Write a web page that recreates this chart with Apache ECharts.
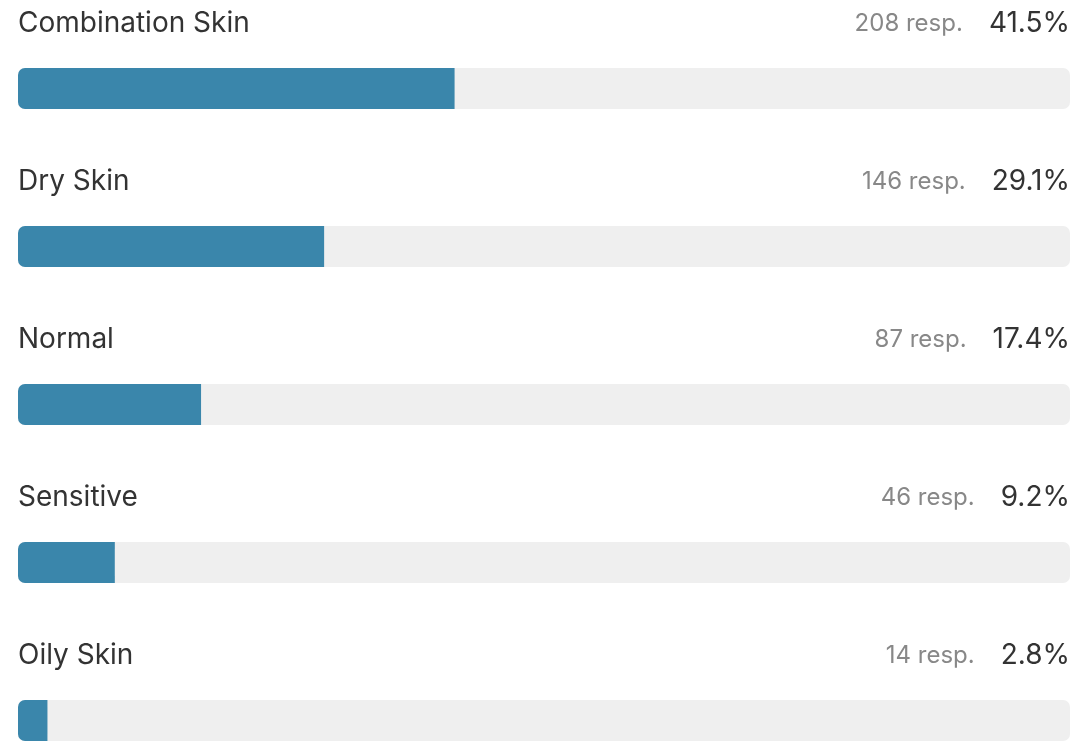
<!DOCTYPE html>
<html>
<head>
<meta charset="utf-8">
<script src="https://cdn.jsdelivr.net/npm/echarts@6/dist/echarts.min.js"></script>
<style>
html,body{margin:0;padding:0;background:#fff;}
#chart{width:1076px;height:741px;}
</style>
</head>
<body>
<div id="chart"></div>
<script>
const categories = ['Combination Skin', 'Dry Skin', 'Normal', 'Sensitive', 'Oily Skin'];
const responses = [208, 146, 87, 46, 14];
const percents = [41.5, 29.1, 17.4, 9.2, 2.8];
const fullScale = [100, 100, 100, 100, 100];

const chart = echarts.init(document.getElementById('chart'), null, {renderer: 'canvas'});
const font = 'Inter, "Noto Sans", "Liberation Sans", sans-serif';

chart.setOption({
  animation: false,
  grid: {left: 18, right: 6, top: 88.5, bottom: 20.5},
  xAxis: {type: 'value', min: 0, max: 100, show: false},
  yAxis: {type: 'category', data: categories, inverse: true, show: false, boundaryGap: false},
  series: [
    {
      type: 'bar',
      data: fullScale,
      barWidth: 41,
      itemStyle: {color: '#efefef', borderRadius: 7},
      label: {
        show: true,
        position: [0, -44],
        verticalAlign: 'middle',
        align: 'left',
        formatter: p => categories[p.dataIndex],
        fontFamily: font,
        fontSize: 28,
        color: '#333333'
      },
      silent: true,
      z: 1
    },
    {
      type: 'bar',
      data: fullScale,
      barWidth: 41,
      barGap: '-100%',
      itemStyle: {color: 'rgba(0,0,0,0)'},
      label: {
        show: true,
        position: [1052, -44],
        verticalAlign: 'middle',
        align: 'right',
        formatter: p => '{a|' + responses[p.dataIndex] + ' resp.}{b|' + percents[p.dataIndex].toFixed(1) + '%}',
        rich: {
          a: {fontFamily: font, fontSize: 24, color: '#888888'},
          b: {fontFamily: font, fontSize: 28, color: '#333333', padding: [0, 0, 0, 26]}
        }
      },
      silent: true,
      z: 2
    },
    {
      type: 'bar',
      data: percents,
      barWidth: 41,
      barGap: '-100%',
      itemStyle: {color: '#3a86ab', borderRadius: [7, 0, 0, 7]},
      z: 3
    }
  ]
});
</script>
</body>
</html>
